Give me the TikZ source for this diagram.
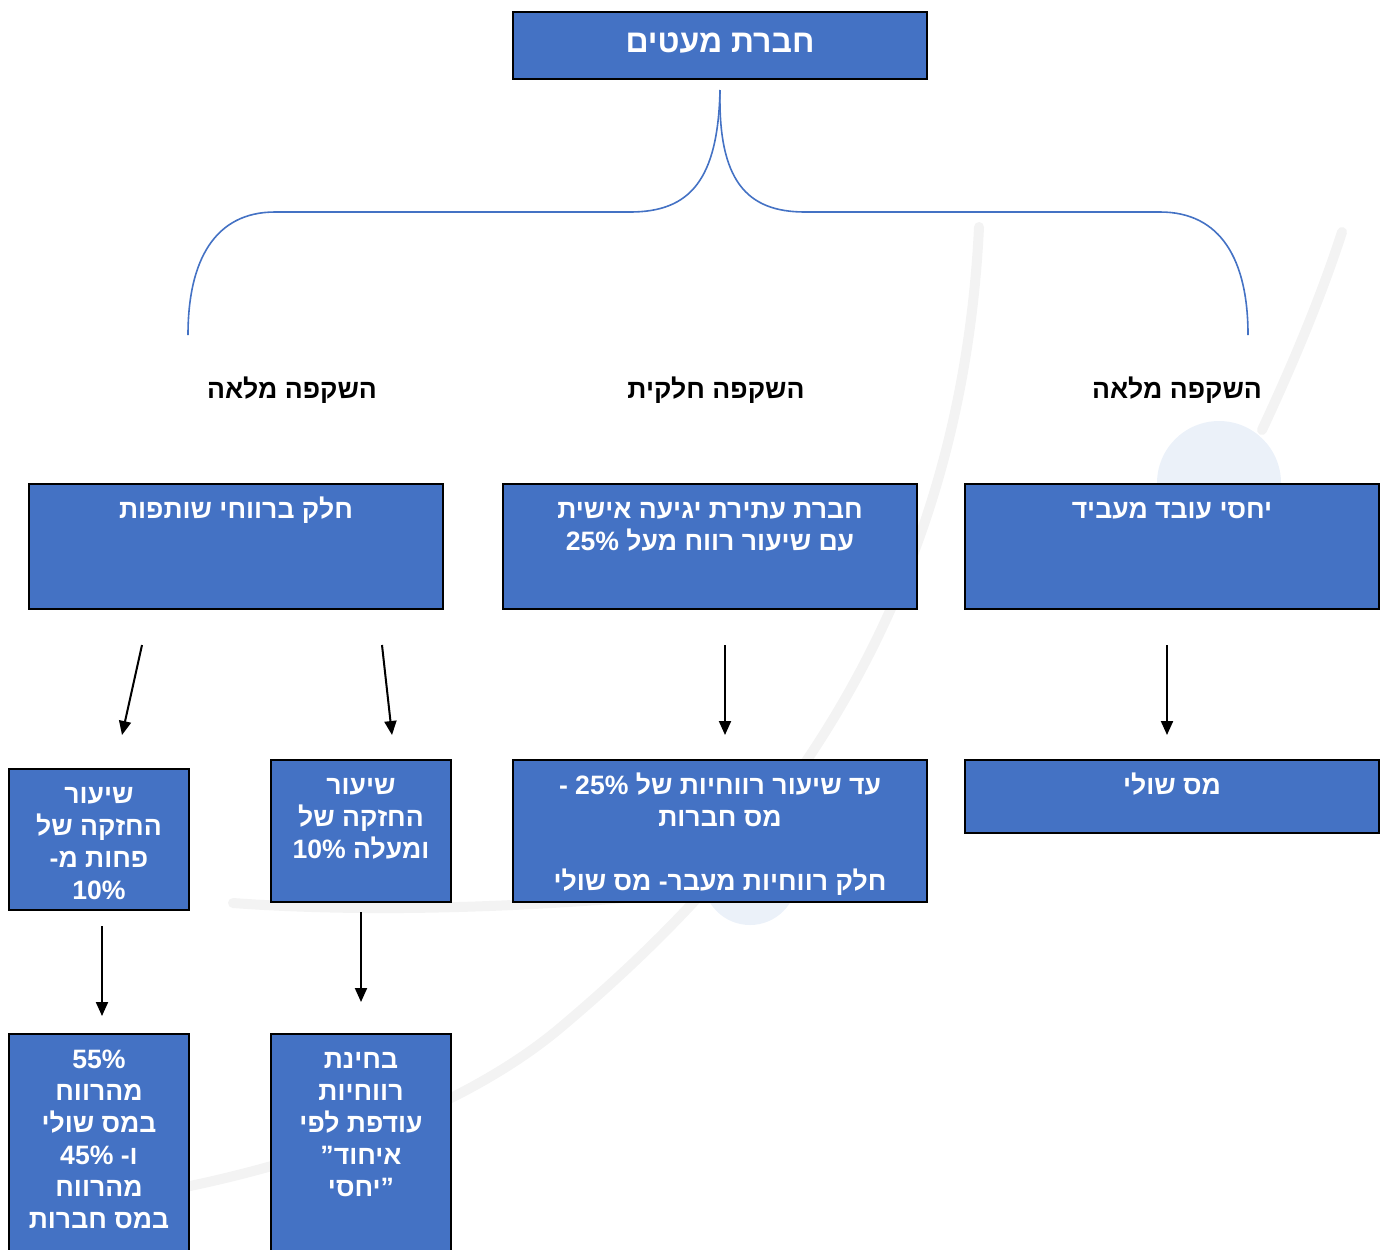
\documentclass[tikz,border=0pt]{standalone}
\usepackage{fontspec}
\setmainfont{Liberation Sans}
\newfontfamily\hebfont[Script=Hebrew]{Liberation Sans}
\TeXXeTstate=1
\usepackage{tikz}
\usetikzlibrary{arrows.meta}
\definecolor{boxblue}{HTML}{4472C4}
\definecolor{markgray}{HTML}{F3F3F3}
\definecolor{markblue}{HTML}{EBF1F9}
\newcommand{\pct}[1]{\beginL #1\%\endL}
\newcommand{\kopregel}{\rule{0pt}{11pt}}
\tikzset{
    %Define standard arrow tip
    >={Triangle[length=7pt,width=6pt]},
    %Define style for boxes
    blok/.style={
           rectangle,
           draw=black, line width=1pt,
           fill=boxblue,
           anchor=north west,
           inner sep=0pt},
    bloktext/.style={
           anchor=north,
           inner sep=0pt,
           yshift=-6.5pt,
           align=center,
           text=white,
           font=\hebfont\bfseries\fontsize{13.3}{16}\selectfont},
    titel/.style={
           text=white,
           text depth=3pt,
           font=\hebfont\bfseries\fontsize{16}{18}\selectfont},
    kop/.style={
           font=\hebfont\bfseries\fontsize{13.3}{16}\selectfont},
    % Define arrow style
    pijl/.style={
           ->,
           line width=1pt},
    accolade/.style={
           draw=boxblue, line width=0.8pt},
    watermerk/.style={
           draw=markgray, line width=5pt, line cap=round}
}
\begin{document}
\begin{tikzpicture}[x=0.5pt,y=-0.5pt]
\useasboundingbox (0,0) rectangle (1384,1249);
\clip (0,0) rectangle (1384,1249);
% faint logo in the background
\fill[markblue] (1219,483) circle[radius=31pt];
\fill[markblue] (750,878) circle[radius=23.5pt];
\draw[watermerk] (979,227) .. controls (960,620) and (760,860) .. (560,1028)
    .. controls (460,1112) and (300,1165) .. (170,1190);
\draw[watermerk] (233,903) .. controls (400,915) and (600,905) .. (800,880);
\draw[watermerk] (1342,232) .. controls (1320,300) and (1290,370) .. (1262,430);

\node[blok, titel, minimum width=207pt, minimum height=33.5pt] (top) at (512,11) {\beginR חברת מעטים\endR};

% brace
\coordinate (bl) at (188,335);
\coordinate (br) at (1248,335);
\draw[accolade] ([yshift=-5pt]top.south) .. controls (718,180) and (690,212) .. (630,212) -- (275,212)
    .. controls (215,212) and (188,260) .. (bl);
\draw[accolade] ([yshift=-5pt]top.south) .. controls (718,180) and (746,212) .. (805,212) -- (1160,212)
    .. controls (1221,212) and (1248,260) .. (br);

\node[kop] (kl) at (292,390) {\beginR השקפה מלאה\endR};
\node[kop] (km) at (716,390) {\beginR השקפה חלקית\endR};
\node[kop] (kr) at (1177,390) {\beginR השקפה מלאה\endR};

\node[blok, minimum width=207pt, minimum height=62.5pt,
  label={[bloktext]north:{\kopregel\beginR חלק ברווחי שותפות\endR}}] (l1) at (28,483) {};
\node[blok, minimum width=207pt, minimum height=62.5pt,
  label={[bloktext]north:{\kopregel\beginR חברת עתירת יגיעה אישית\endR\\\beginR עם שיעור רווח מעל \pct{25}\endR}}] (m1) at (502,483) {};
\node[blok, minimum width=207pt, minimum height=62.5pt,
  label={[bloktext]north:{\kopregel\beginR יחסי עובד מעביד\endR}}] (r1) at (964,483) {};

\node[blok, minimum width=90pt, minimum height=70.5pt,
  label={[bloktext]north:{\kopregel\beginR שיעור\endR\\\beginR החזקה של\endR\\\beginR פחות מ-\endR\\\pct{10}}}] (ll2) at (8,768) {};
\node[blok, minimum width=90pt, minimum height=71pt,
  label={[bloktext]north:{\kopregel\beginR שיעור\endR\\\beginR החזקה של\endR\\\beginR ומעלה \pct{10}\endR}}] (lr2) at (270,759) {};
\node[blok, minimum width=207pt, minimum height=71pt,
  label={[bloktext]north:{\kopregel\beginR עד שיעור רווחיות של \pct{25} -\endR\\\beginR מס חברות\endR\\[16pt]\beginR חלק רווחיות מעבר- מס שולי\endR}}] (m2) at (512,759) {};
\node[blok, minimum width=207pt, minimum height=36.5pt,
  label={[bloktext]north:{\kopregel\beginR מס שולי\endR}}] (r2) at (964,759) {};

\node[blok, minimum width=90pt, minimum height=120pt,
  label={[bloktext]north:{\kopregel\pct{55}\\\beginR מהרווח\endR\\\beginR במס שולי\endR\\\beginR ו- \pct{45}\endR\\\beginR מהרווח\endR\\\beginR במס חברות\endR}}] (ll3) at (8,1033) {};
\node[blok, minimum width=90pt, minimum height=120pt,
  label={[bloktext]north:{\kopregel\beginR בחינת\endR\\\beginR רווחיות\endR\\\beginR עודפת לפי\endR\\\beginR איחוד”\endR\\\beginR ”יחסי\endR}}] (lr3) at (270,1033) {};

\draw[pijl] ([shift={(114,35)}]l1.south west) -- ([shift={(114,-33)}]ll2.north west);
\draw[pijl] ([shift={(354,35)}]l1.south west) -- ([shift={(122,-24)}]lr2.north west);
\draw[pijl] ([shift={(15,35)}]m1.south) -- ([shift={(5,-24)}]m2.north);
\draw[pijl] ([shift={(-5,35)}]r1.south) -- ([shift={(-5,-24)}]r2.north);
\draw[pijl] ([shift={(3,15)}]ll2.south) -- ([shift={(3,-17)}]ll3.north);
\draw[pijl] ([shift={(0,9)}]lr2.south) -- ([shift={(0,-31)}]lr3.north);
\end{tikzpicture}
\end{document}
